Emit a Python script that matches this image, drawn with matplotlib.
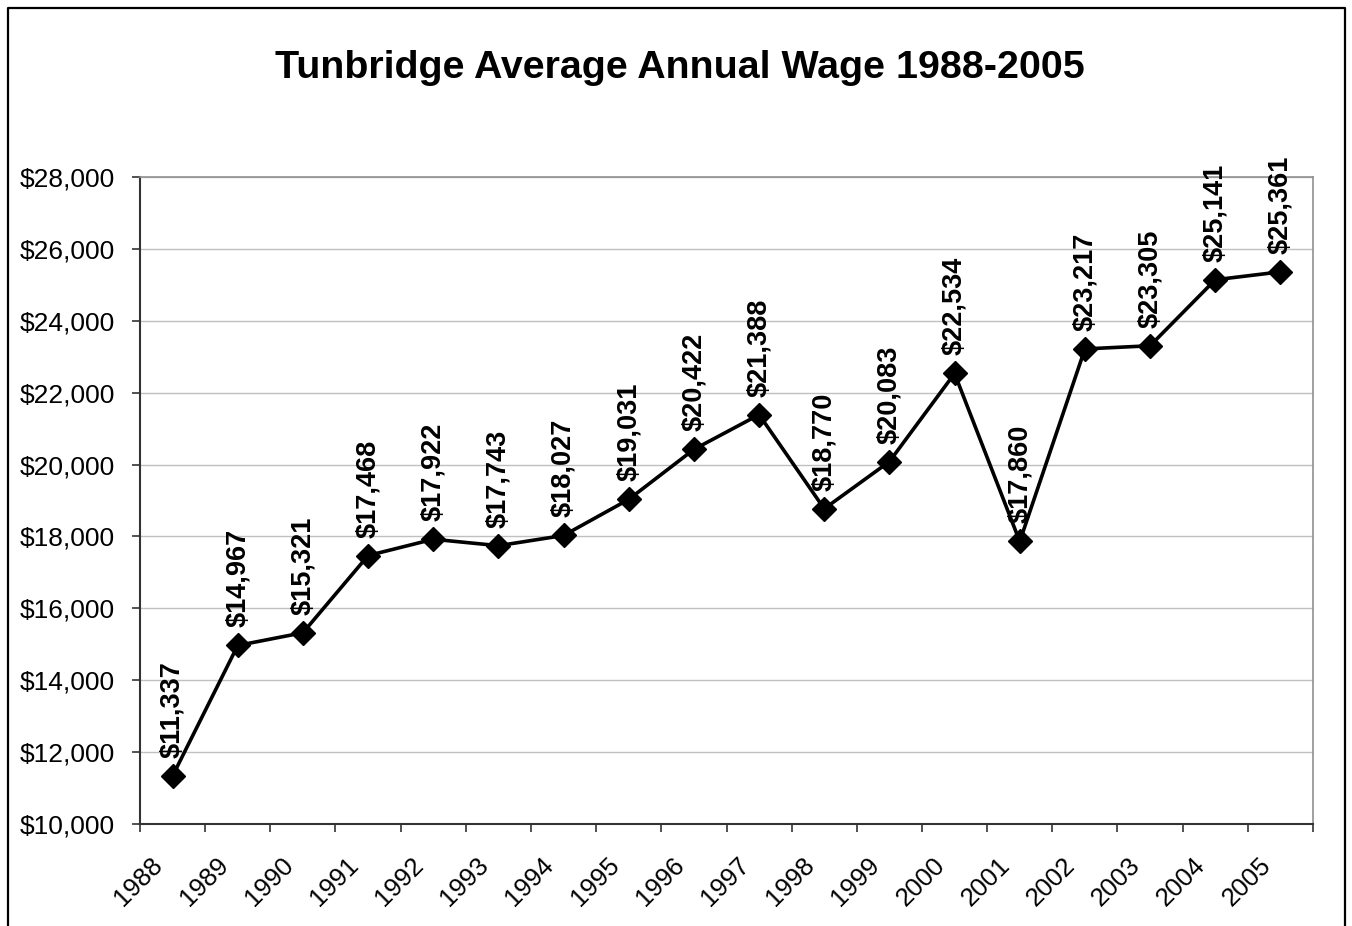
import matplotlib
matplotlib.use("Agg")
import matplotlib.pyplot as plt
from matplotlib.lines import Line2D
from matplotlib.ticker import FuncFormatter, FixedLocator
from matplotlib.transforms import ScaledTranslation

years = ["1988", "1989", "1990", "1991", "1992", "1993", "1994", "1995", "1996",
         "1997", "1998", "1999", "2000", "2001", "2002", "2003", "2004", "2005"]
wages = [11337, 14967, 15321, 17468, 17922, 17743, 18027, 19031, 20422,
         21388, 18770, 20083, 22534, 17860, 23217, 23305, 25141, 25361]
y_ticks = list(range(10000, 28001, 2000))
title = "Tunbridge Average Annual Wage 1988-2005"

plt.rcParams["font.family"] = ["Liberation Sans", "DejaVu Sans"]

W, H = 1352, 926
fig = plt.figure(figsize=(W / 100, H / 100), dpi=100)
ax = fig.add_axes([140 / W, 1 - 824 / H, (1313 - 140) / W, (824 - 177) / H])

x = list(range(len(years)))
ax.plot(x, wages, color="black", linewidth=2.6, marker="D", markersize=12,
        markerfacecolor="black", markeredgecolor="black", zorder=3)

for xi, v in zip(x, wages):
    ax.annotate(f"${v:,}", (xi, v), xytext=(0, 13), textcoords="offset points",
                rotation=90, ha="center", va="bottom", fontsize=19.5,
                fontweight="bold", color="black", zorder=4)

ax.set_xlim(-0.5, len(years) - 0.5)
ax.set_ylim(y_ticks[0], y_ticks[-1])
ax.set_yticks(y_ticks)
ax.yaxis.set_major_formatter(FuncFormatter(lambda v, p: f"${int(v):,}"))
ax.grid(axis="y", color="#c0c0c0", linewidth=1.0, zorder=0)

ax.set_xticks(x)
ax.set_xticklabels(years, rotation=45, ha="right", rotation_mode="anchor")
ax.xaxis.set_minor_locator(FixedLocator([i - 0.5 for i in range(len(years) + 1)]))
ax.tick_params(axis="x", which="major", length=0, pad=21, labelsize=18.5)
ax.tick_params(axis="x", which="minor", length=6, width=1.2, color="#333333")
ax.tick_params(axis="y", which="major", length=6, width=1.2, color="#333333",
               labelsize=19, pad=12)
shift = ScaledTranslation(-0.22, 0, fig.dpi_scale_trans)
for lab in ax.get_xticklabels():
    lab.set_transform(lab.get_transform() + shift)

for side in ("left", "bottom"):
    ax.spines[side].set_color("#333333")
    ax.spines[side].set_linewidth(1.5)
for side in ("top", "right"):
    ax.spines[side].set_color("#909090")
    ax.spines[side].set_linewidth(1.2)

fig.text(680 / W, 1 - 68 / H, title, ha="center", va="center",
         fontsize=28.4, fontweight="bold")

# outer frame, open at the bottom edge
bx = [8 / W, 8 / W, 1345 / W, 1345 / W]
by = [-0.05, 1 - 8 / H, 1 - 8 / H, -0.05]
fig.add_artist(Line2D(bx, by, transform=fig.transFigure, color="black",
                      linewidth=1.6))

fig.savefig("out.png", dpi=100)
